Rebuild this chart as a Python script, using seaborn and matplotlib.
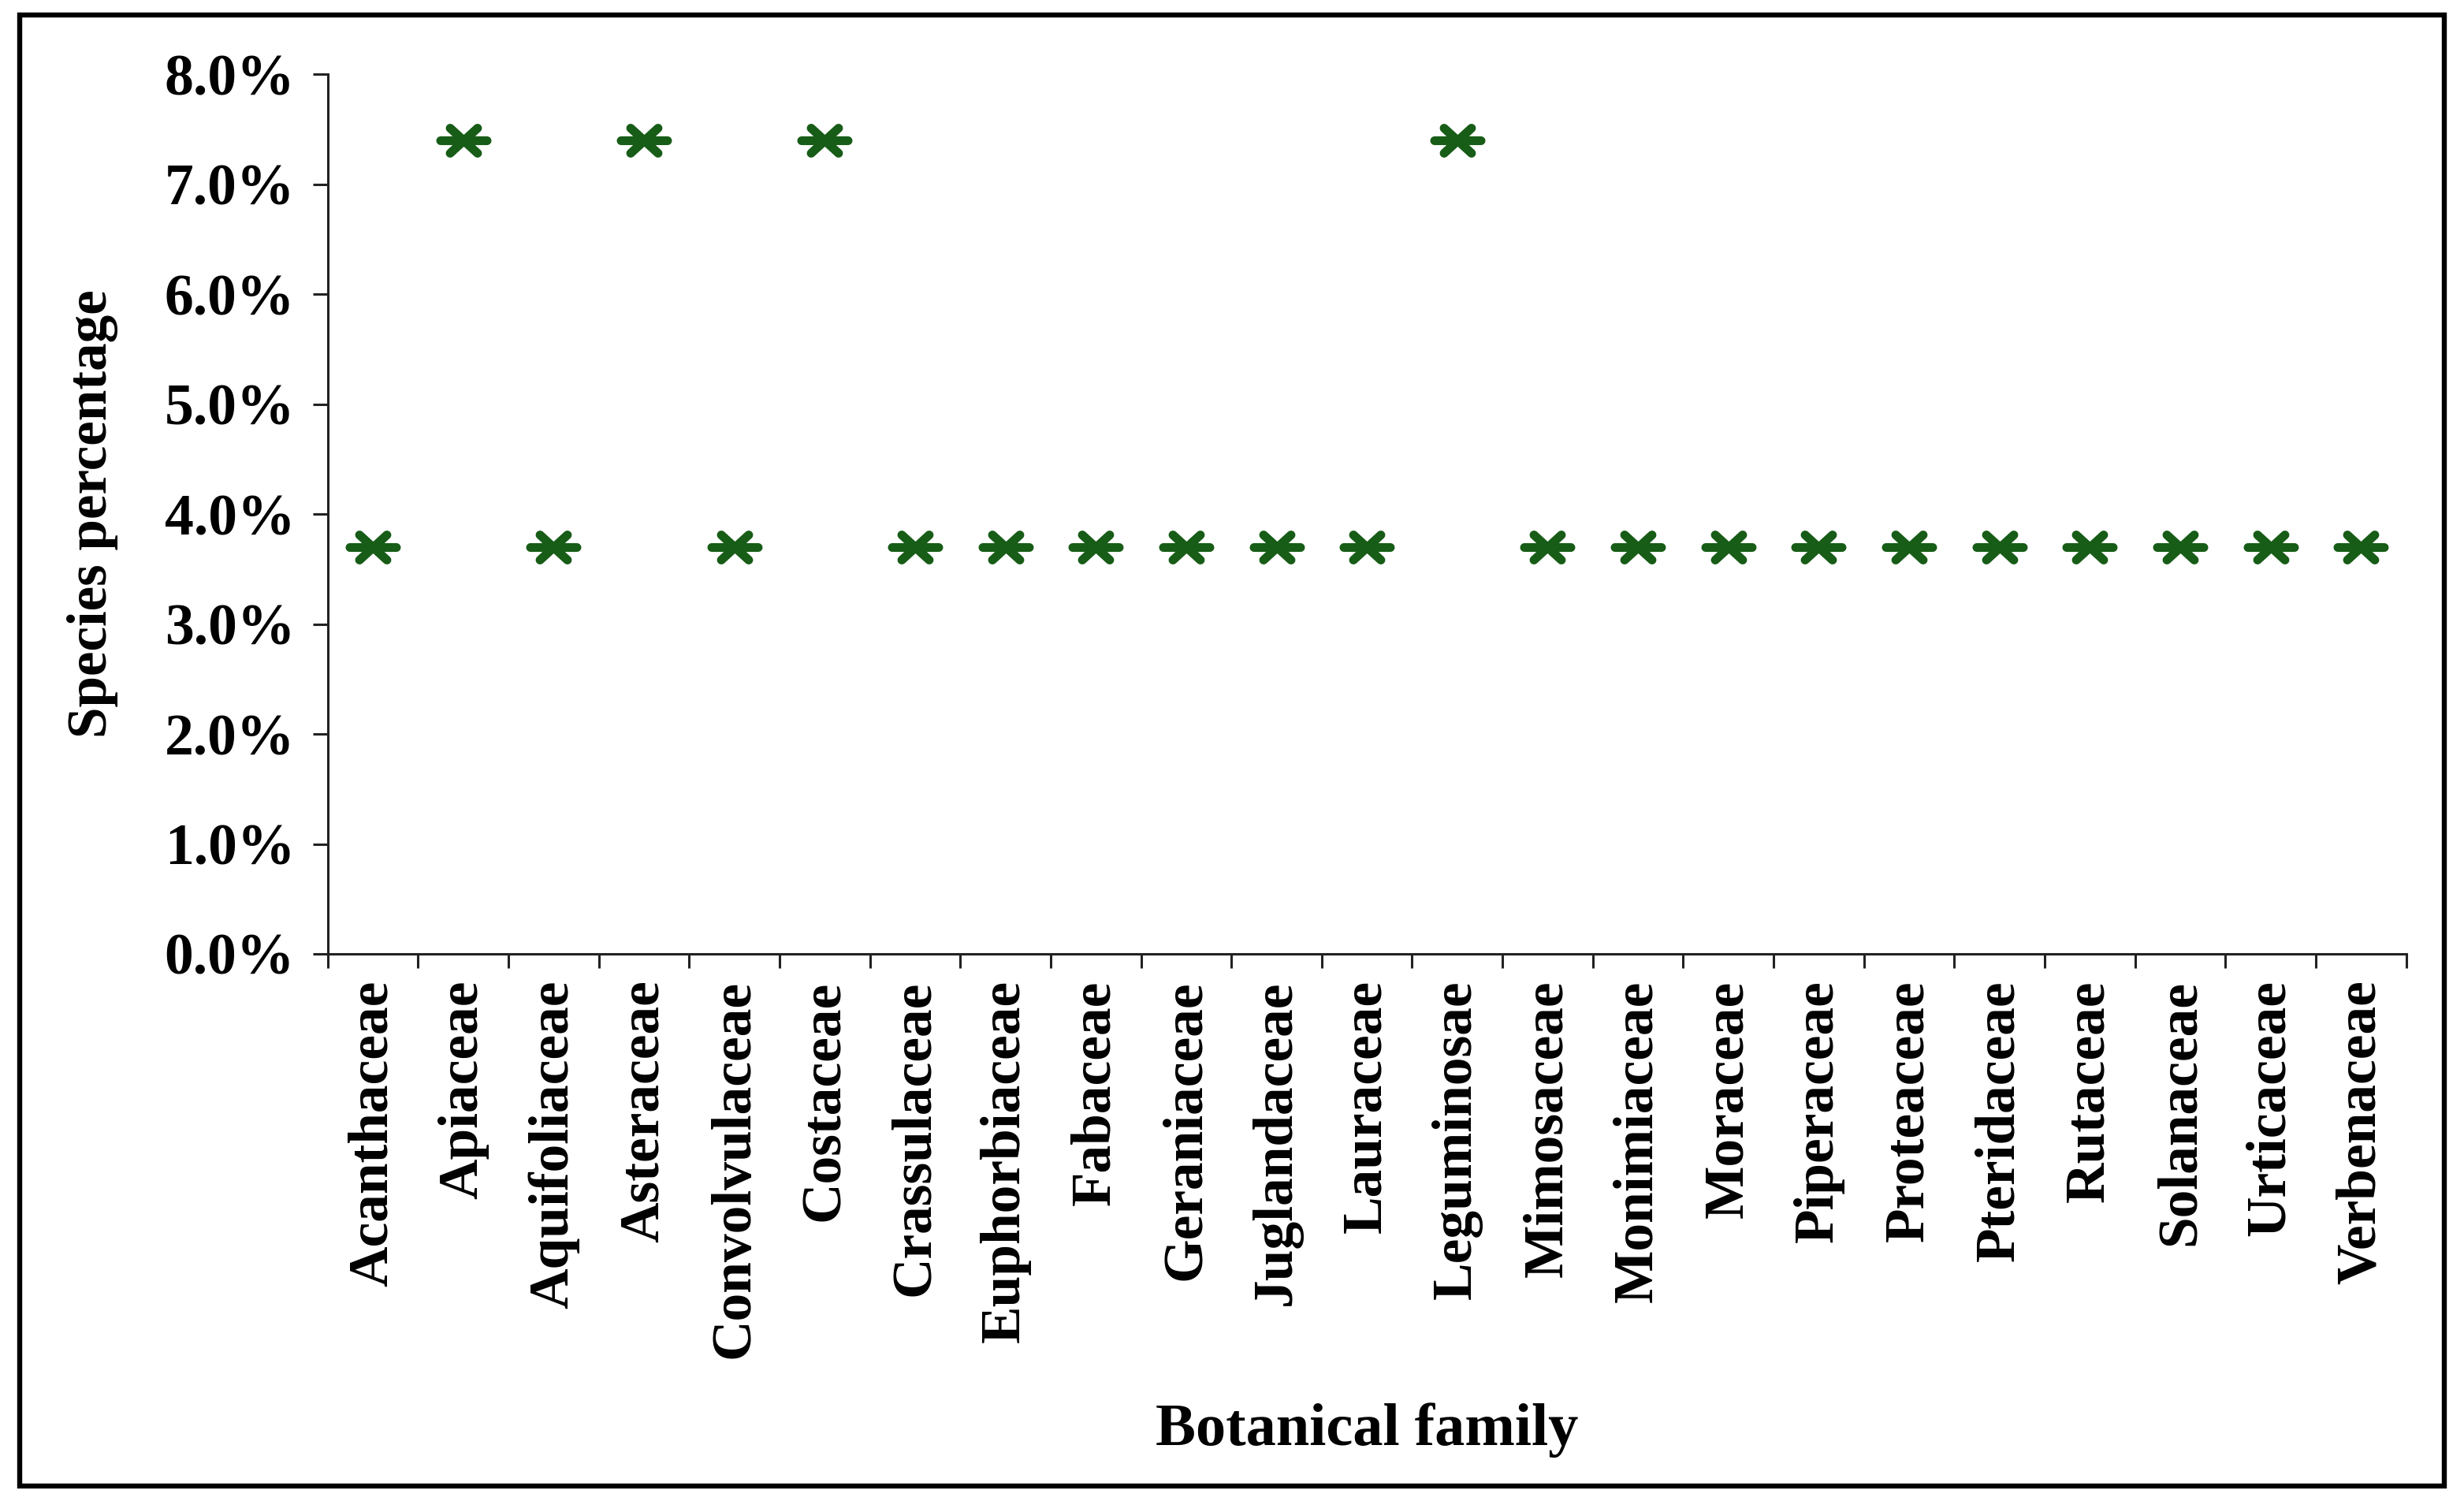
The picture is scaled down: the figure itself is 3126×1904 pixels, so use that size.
import matplotlib.pyplot as plt
import pandas as pd
import seaborn as sns
from matplotlib.path import Path
from matplotlib.patches import Rectangle
from matplotlib.ticker import FixedLocator, FuncFormatter

# data
families = ["Acanthaceae", "Apiaceae", "Aquifoliaceae", "Asteraceae", "Convolvulaceae",
            "Costaceae", "Crassulaceae", "Euphorbiaceae", "Fabaceae", "Geraniaceae",
            "Juglandaceae", "Lauraceae", "Leguminosae", "Mimosaceae", "Monimiaceae",
            "Moraceae", "Piperaceae", "Proteaceae", "Pteridaceae", "Rutaceae",
            "Solanaceae", "Urticaceae", "Verbenaceae"]
species_pct = [3.7, 7.4, 3.7, 7.4, 3.7, 7.4, 3.7, 3.7, 3.7, 3.7, 3.7, 3.7, 7.4,
               3.7, 3.7, 3.7, 3.7, 3.7, 3.7, 3.7, 3.7, 3.7, 3.7]
y_ticks = [0, 1, 2, 3, 4, 5, 6, 7, 8]

df = pd.DataFrame({"family": families, "pct": species_pct})

sns.set_style("white")
plt.rcParams["font.family"] = ["Liberation Serif", "DejaVu Serif"]
plt.rcParams["font.weight"] = "bold"
plt.rcParams["text.color"] = "black"
plt.rcParams["axes.labelcolor"] = "black"

green = "#175c17"
axis_col = "#222222"

# asterisk-like marker: one horizontal bar and two flat diagonals
star = Path(
    [(-1, 0), (1, 0), (-0.59, -0.54), (0.59, 0.54), (-0.59, 0.54), (0.59, -0.54)],
    [Path.MOVETO, Path.LINETO, Path.MOVETO, Path.LINETO, Path.MOVETO, Path.LINETO],
)

fig = plt.figure(figsize=(15.63, 9.52), dpi=200)
ax = fig.add_axes([0.133, 0.3645, 0.8435, 0.5861])

sns.scatterplot(data=df, x="family", y="pct", marker=star, s=450,
                color=green, edgecolor=green, linewidth=4.0, ax=ax, legend=False)
for coll in ax.collections:
    coll.set_capstyle("round")

ax.set_xlim(-0.5, len(families) - 0.5)
ax.set_ylim(0, 8)
ax.set_yticks(y_ticks)
ax.yaxis.set_major_formatter(FuncFormatter(lambda v, p: f"{v:.1f}%"))

# labels at centres, tick marks at category boundaries
ax.set_xticks(range(len(families)))
ax.set_xticklabels(families, rotation=90)
ax.xaxis.set_minor_locator(FixedLocator([i - 0.5 for i in range(len(families) + 1)]))
ax.tick_params(axis="x", which="major", bottom=True, length=0, pad=12,
               labelsize=25.7, labelcolor="black")
ax.tick_params(axis="x", which="minor", bottom=True, length=6.5, width=1.1,
               color=axis_col, direction="out")
ax.tick_params(axis="y", left=True, length=7, width=1.1, color=axis_col,
               direction="out", pad=8, labelsize=26.5, labelcolor="black")

for side in ["top", "right"]:
    ax.spines[side].set_visible(False)
for side in ["left", "bottom"]:
    ax.spines[side].set_linewidth(1.1)
    ax.spines[side].set_color(axis_col)

ax.set_xlabel("Botanical family", fontsize=27.5, fontweight="bold", labelpad=20)
ax.set_ylabel("Species percentage", fontsize=25.6, fontweight="bold", labelpad=21)

# outer frame
fig.patches.append(Rectangle((0.008, 0.010), 0.984, 0.980, transform=fig.transFigure,
                             fill=False, edgecolor="black", linewidth=2.3))

fig.savefig("out.png", dpi=200, facecolor="white")
